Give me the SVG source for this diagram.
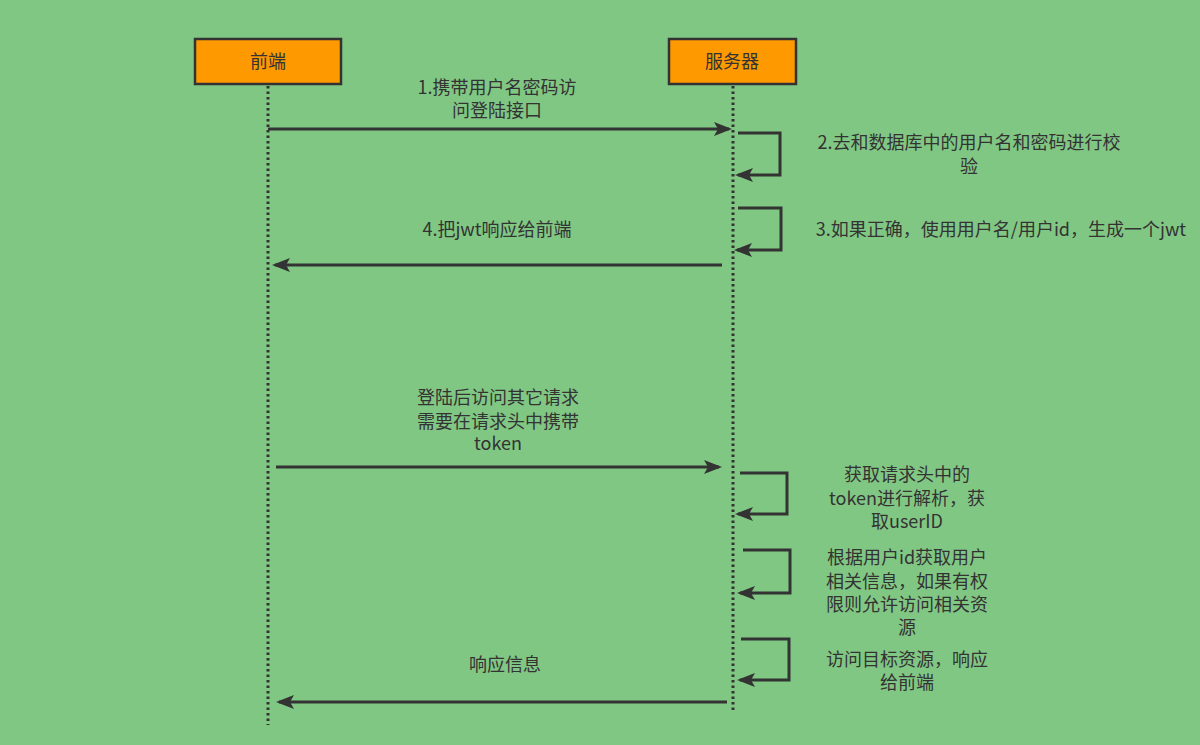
<svg xmlns="http://www.w3.org/2000/svg" width="1200" height="745" viewBox="0 0 1200 745">
<defs>
<marker id="ah" markerUnits="userSpaceOnUse" markerWidth="18" markerHeight="14" viewBox="0 0 18 14" refX="15" refY="7" orient="auto">
<path d="M0,0 L18,7 L0,14 L4,7 z" fill="#333"/>
</marker>
<style>
.t{font-family:"Noto Sans CJK SC","Microsoft YaHei",sans-serif;font-size:18px;fill:#333;text-anchor:middle}
.box{fill:#ff9900;stroke:#333;stroke-width:2.5}
.life{stroke:#333;stroke-width:3;stroke-dasharray:2.5 3;fill:none}
.msg{stroke:#333;stroke-width:3;fill:none;marker-end:url(#ah)}
</style>
</defs>
<rect width="1200" height="745" fill="#81c784"/>
<g id="frontend">
<rect class="box" x="195" y="39" width="146" height="45"/>
<text class="t" x="268" y="68">前端</text>
<line class="life" x1="268" y1="86" x2="268" y2="725"/>
</g>
<g id="server">
<rect class="box" x="669" y="39" width="127" height="45"/>
<text class="t" x="732" y="68">服务器</text>
<line class="life" x1="733" y1="86" x2="733" y2="711"/>
</g>
<g id="connectors">
<path class="msg" d="M268,129 H729"/>
<path class="msg" d="M738,133 H780 V175 H738"/>
<path class="msg" d="M738,208 H781 V250 H737"/>
<path class="msg" d="M722,265 H275"/>
<path class="msg" d="M276,467 H719"/>
<path class="msg" d="M740,473 H787 V514 H738"/>
<path class="msg" d="M743,550 H790 V593 H740"/>
<path class="msg" d="M741,639 H789 V680 H740"/>
<path class="msg" d="M727,702 H279"/>
</g>
<g id="labels">
<text class="t" x="497" y="94">1.携带用户名密码访</text>
<text class="t" x="497" y="117">问登陆接口</text>
<text class="t" x="969" y="149">2.去和数据库中的用户名和密码进行校</text>
<text class="t" x="969" y="173">验</text>
<text class="t" x="1001" y="236">3.如果正确，使用用户名/用户id，生成一个jwt</text>
<text class="t" x="497" y="236">4.把jwt响应给前端</text>
<text class="t" x="498" y="404">登陆后访问其它请求</text>
<text class="t" x="498" y="428">需要在请求头中携带</text>
<text class="t" x="498" y="450">token</text>
<text class="t" x="907" y="481">获取请求头中的</text>
<text class="t" x="907" y="505">token进行解析，获</text>
<text class="t" x="907" y="528">取userID</text>
<text class="t" x="907" y="564">根据用户id获取用户</text>
<text class="t" x="907" y="588">相关信息，如果有权</text>
<text class="t" x="907" y="611">限则允许访问相关资</text>
<text class="t" x="907" y="634">源</text>
<text class="t" x="907" y="666">访问目标资源，响应</text>
<text class="t" x="907" y="689">给前端</text>
<text class="t" x="505" y="671">响应信息</text>
</g>
</svg>
